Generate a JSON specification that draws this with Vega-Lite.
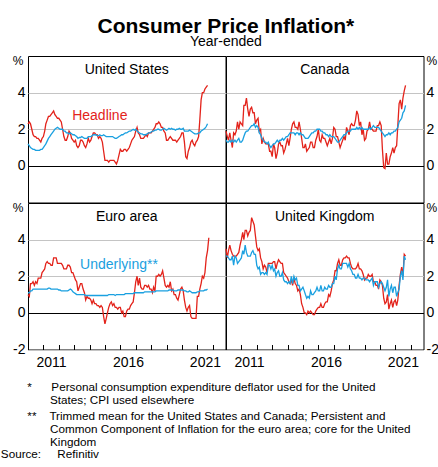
{
"$schema": "https://vega.github.io/schema/vega-lite/v6.json",
"padding": {"left": 0, "top": 16, "right": 0, "bottom": 0},
"title": {"text": "Consumer Price Inflation*", "subtitle": "Year-ended", "fontSize": 21, "fontWeight": "bold", "subtitleFontSize": 14, "anchor": "middle", "frame": "bounds", "dx": 6, "offset": 5, "subtitlePadding": -2},
"datasets": {"cpi": [
{"d":"2010-01","ush":2.3,"usu":1.2,"cah":1.9,"cau":1.4,"eah":1.0,"eau":1.1,"ukh":3.5,"uku":3.1},
{"d":"2010-02","ush":2.4,"usu":1.1,"cah":1.6,"cau":1.3,"eah":0.9,"eau":1.1,"ukh":3.0,"uku":3.1},
{"d":"2010-03","ush":2.3,"usu":1.0,"cah":1.4,"cau":1.3,"eah":1.6,"eau":1.2,"ukh":3.4,"uku":3.0},
{"d":"2010-04","ush":2.0,"usu":0.95,"cah":1.8,"cau":1.4,"eah":1.6,"eau":1.2,"ukh":3.7,"uku":2.9},
{"d":"2010-05","ush":1.7,"usu":0.9,"cah":1.4,"cau":1.3,"eah":1.7,"eau":1.3,"ukh":3.4,"uku":2.9},
{"d":"2010-06","ush":1.6,"usu":0.9,"cah":1.0,"cau":1.4,"eah":1.5,"eau":1.3,"ukh":3.2,"uku":3.1},
{"d":"2010-07","ush":1.6,"usu":0.85,"cah":1.8,"cau":1.3,"eah":1.7,"eau":1.3,"ukh":3.1,"uku":2.6},
{"d":"2010-08","ush":1.5,"usu":0.85,"cah":1.7,"cau":1.4,"eah":1.6,"eau":1.3,"ukh":3.1,"uku":3.1},
{"d":"2010-09","ush":1.5,"usu":0.85,"cah":1.9,"cau":1.3,"eah":1.9,"eau":1.3,"ukh":3.1,"uku":3.0},
{"d":"2010-10","ush":1.4,"usu":0.85,"cah":2.4,"cau":1.4,"eah":1.9,"eau":1.3,"ukh":3.2,"uku":2.7},
{"d":"2010-11","ush":1.3,"usu":0.9,"cah":2.0,"cau":1.5,"eah":1.9,"eau":1.3,"ukh":3.3,"uku":2.8},
{"d":"2010-12","ush":1.5,"usu":0.9,"cah":2.4,"cau":1.3,"eah":2.2,"eau":1.3,"ukh":3.7,"uku":2.9},
{"d":"2011-01","ush":1.6,"usu":1.0,"cah":2.3,"cau":1.3,"eah":2.3,"eau":1.3,"ukh":4.0,"uku":3.0},
{"d":"2011-02","ush":1.9,"usu":1.1,"cah":2.2,"cau":1.4,"eah":2.4,"eau":1.3,"ukh":4.4,"uku":3.4},
{"d":"2011-03","ush":2.3,"usu":1.2,"cah":3.3,"cau":1.6,"eah":2.7,"eau":1.3,"ukh":4.0,"uku":3.2},
{"d":"2011-04","ush":2.5,"usu":1.35,"cah":3.3,"cau":1.8,"eah":2.8,"eau":1.3,"ukh":4.5,"uku":3.7},
{"d":"2011-05","ush":2.7,"usu":1.5,"cah":3.7,"cau":1.9,"eah":2.7,"eau":1.35,"ukh":4.5,"uku":3.3},
{"d":"2011-06","ush":2.7,"usu":1.6,"cah":3.1,"cau":1.9,"eah":2.7,"eau":1.35,"ukh":4.2,"uku":3.1},
{"d":"2011-07","ush":2.8,"usu":1.7,"cah":2.7,"cau":2.0,"eah":2.6,"eau":1.3,"ukh":4.4,"uku":3.1},
{"d":"2011-08","ush":2.9,"usu":1.8,"cah":3.1,"cau":2.1,"eah":2.6,"eau":1.3,"ukh":4.5,"uku":3.1},
{"d":"2011-09","ush":3.0,"usu":1.9,"cah":3.2,"cau":2.2,"eah":3.0,"eau":1.3,"ukh":5.2,"uku":3.3},
{"d":"2011-10","ush":2.8,"usu":2.0,"cah":2.9,"cau":2.2,"eah":3.0,"eau":1.3,"ukh":5.0,"uku":3.4},
{"d":"2011-11","ush":2.7,"usu":2.05,"cah":2.9,"cau":2.3,"eah":3.0,"eau":1.3,"ukh":4.8,"uku":3.2},
{"d":"2011-12","ush":2.6,"usu":2.1,"cah":2.3,"cau":2.1,"eah":2.7,"eau":1.3,"ukh":4.2,"uku":3.2},
{"d":"2012-01","ush":2.6,"usu":2.05,"cah":2.5,"cau":2.2,"eah":2.7,"eau":1.25,"ukh":3.6,"uku":2.6},
{"d":"2012-02","ush":2.5,"usu":2.0,"cah":2.6,"cau":2.1,"eah":2.7,"eau":1.25,"ukh":3.4,"uku":2.4},
{"d":"2012-03","ush":2.4,"usu":2.0,"cah":1.9,"cau":1.8,"eah":2.7,"eau":1.2,"ukh":3.5,"uku":2.5},
{"d":"2012-04","ush":2.0,"usu":2.0,"cah":2.0,"cau":1.7,"eah":2.6,"eau":1.2,"ukh":3.0,"uku":2.1},
{"d":"2012-05","ush":1.6,"usu":1.9,"cah":1.2,"cau":1.5,"eah":2.4,"eau":1.2,"ukh":2.8,"uku":2.2},
{"d":"2012-06","ush":1.4,"usu":1.9,"cah":1.5,"cau":1.4,"eah":2.4,"eau":1.2,"ukh":2.4,"uku":2.2},
{"d":"2012-07","ush":1.4,"usu":1.8,"cah":1.3,"cau":1.3,"eah":2.4,"eau":1.2,"ukh":2.6,"uku":2.1},
{"d":"2012-08","ush":1.6,"usu":1.8,"cah":1.2,"cau":1.3,"eah":2.6,"eau":1.2,"ukh":2.5,"uku":2.2},
{"d":"2012-09","ush":1.9,"usu":1.75,"cah":1.2,"cau":1.2,"eah":2.6,"eau":1.25,"ukh":2.2,"uku":2.1},
{"d":"2012-10","ush":1.8,"usu":1.8,"cah":1.2,"cau":1.3,"eah":2.5,"eau":1.3,"ukh":2.7,"uku":2.6},
{"d":"2012-11","ush":1.5,"usu":1.75,"cah":0.8,"cau":1.1,"eah":2.2,"eau":1.25,"ukh":2.7,"uku":2.6},
{"d":"2012-12","ush":1.4,"usu":1.7,"cah":0.8,"cau":1.0,"eah":2.2,"eau":1.15,"ukh":2.7,"uku":2.4},
{"d":"2013-01","ush":1.3,"usu":1.7,"cah":0.5,"cau":1.1,"eah":2.0,"eau":1.1,"ukh":2.7,"uku":2.6},
{"d":"2013-02","ush":1.4,"usu":1.65,"cah":1.2,"cau":1.2,"eah":1.8,"eau":1.05,"ukh":2.8,"uku":2.3},
{"d":"2013-03","ush":1.1,"usu":1.6,"cah":1.0,"cau":1.2,"eah":1.7,"eau":1.0,"ukh":2.8,"uku":2.4},
{"d":"2013-04","ush":1.0,"usu":1.5,"cah":0.4,"cau":1.3,"eah":1.2,"eau":1.0,"ukh":2.4,"uku":2.0},
{"d":"2013-05","ush":1.1,"usu":1.55,"cah":0.7,"cau":1.4,"eah":1.4,"eau":1.0,"ukh":2.7,"uku":2.2},
{"d":"2013-06","ush":1.4,"usu":1.55,"cah":1.2,"cau":1.3,"eah":1.6,"eau":1.0,"ukh":2.9,"uku":2.3},
{"d":"2013-07","ush":1.4,"usu":1.6,"cah":1.3,"cau":1.4,"eah":1.6,"eau":1.0,"ukh":2.8,"uku":2.0},
{"d":"2013-08","ush":1.3,"usu":1.55,"cah":1.1,"cau":1.4,"eah":1.3,"eau":1.0,"ukh":2.7,"uku":2.0},
{"d":"2013-09","ush":1.1,"usu":1.5,"cah":1.1,"cau":1.5,"eah":1.1,"eau":1.0,"ukh":2.7,"uku":2.2},
{"d":"2013-10","ush":1.0,"usu":1.5,"cah":0.7,"cau":1.4,"eah":0.7,"eau":0.95,"ukh":2.2,"uku":1.8},
{"d":"2013-11","ush":1.2,"usu":1.5,"cah":0.9,"cau":1.5,"eah":0.9,"eau":0.95,"ukh":2.1,"uku":1.7},
{"d":"2013-12","ush":1.5,"usu":1.6,"cah":1.2,"cau":1.6,"eah":0.8,"eau":0.95,"ukh":2.0,"uku":1.7},
{"d":"2014-01","ush":1.3,"usu":1.6,"cah":1.5,"cau":1.6,"eah":0.8,"eau":0.95,"ukh":1.9,"uku":1.6},
{"d":"2014-02","ush":1.4,"usu":1.6,"cah":1.1,"cau":1.7,"eah":0.7,"eau":0.95,"ukh":1.7,"uku":1.7},
{"d":"2014-03","ush":1.6,"usu":1.65,"cah":1.5,"cau":1.8,"eah":0.5,"eau":0.95,"ukh":1.6,"uku":1.6},
{"d":"2014-04","ush":1.8,"usu":1.7,"cah":2.0,"cau":1.8,"eah":0.7,"eau":0.95,"ukh":1.8,"uku":2.0},
{"d":"2014-05","ush":1.8,"usu":1.7,"cah":2.3,"cau":1.8,"eah":0.5,"eau":0.95,"ukh":1.5,"uku":1.6},
{"d":"2014-06","ush":1.7,"usu":1.7,"cah":2.4,"cau":1.8,"eah":0.5,"eau":0.95,"ukh":1.9,"uku":2.0},
{"d":"2014-07","ush":1.7,"usu":1.65,"cah":2.1,"cau":1.7,"eah":0.4,"eau":0.95,"ukh":1.6,"uku":1.8},
{"d":"2014-08","ush":1.5,"usu":1.65,"cah":2.1,"cau":1.8,"eah":0.4,"eau":0.95,"ukh":1.5,"uku":1.9},
{"d":"2014-09","ush":1.6,"usu":1.7,"cah":2.0,"cau":1.8,"eah":0.3,"eau":0.95,"ukh":1.2,"uku":1.5},
{"d":"2014-10","ush":1.5,"usu":1.65,"cah":2.4,"cau":1.7,"eah":0.4,"eau":0.95,"ukh":1.3,"uku":1.5},
{"d":"2014-11","ush":1.3,"usu":1.65,"cah":2.0,"cau":1.8,"eah":0.3,"eau":0.95,"ukh":1.0,"uku":1.2},
{"d":"2014-12","ush":0.8,"usu":1.7,"cah":1.5,"cau":1.7,"eah":-0.2,"eau":0.95,"ukh":0.5,"uku":1.3},
{"d":"2015-01","ush":0.3,"usu":1.65,"cah":1.0,"cau":1.7,"eah":-0.6,"eau":0.95,"ukh":0.3,"uku":1.4},
{"d":"2015-02","ush":0.3,"usu":1.6,"cah":1.0,"cau":1.6,"eah":-0.3,"eau":0.95,"ukh":0.0,"uku":1.2},
{"d":"2015-03","ush":0.3,"usu":1.6,"cah":1.2,"cau":1.5,"eah":0.0,"eau":0.95,"ukh":0.0,"uku":1.0},
{"d":"2015-04","ush":0.2,"usu":1.6,"cah":0.8,"cau":1.5,"eah":0.3,"eau":1.0,"ukh":-0.1,"uku":0.8},
{"d":"2015-05","ush":0.3,"usu":1.6,"cah":0.9,"cau":1.5,"eah":0.5,"eau":1.0,"ukh":0.1,"uku":0.9},
{"d":"2015-06","ush":0.3,"usu":1.6,"cah":1.0,"cau":1.6,"eah":0.6,"eau":1.0,"ukh":0.0,"uku":0.8},
{"d":"2015-07","ush":0.3,"usu":1.6,"cah":1.3,"cau":1.7,"eah":0.4,"eau":1.0,"ukh":0.1,"uku":1.2},
{"d":"2015-08","ush":0.3,"usu":1.55,"cah":1.3,"cau":1.8,"eah":0.5,"eau":1.0,"ukh":0.0,"uku":1.0},
{"d":"2015-09","ush":0.2,"usu":1.5,"cah":1.0,"cau":1.8,"eah":0.3,"eau":0.95,"ukh":-0.1,"uku":1.0},
{"d":"2015-10","ush":0.1,"usu":1.5,"cah":1.0,"cau":1.9,"eah":0.3,"eau":1.0,"ukh":-0.1,"uku":1.1},
{"d":"2015-11","ush":0.3,"usu":1.55,"cah":1.4,"cau":1.9,"eah":0.2,"eau":1.0,"ukh":0.1,"uku":1.2},
{"d":"2015-12","ush":0.6,"usu":1.6,"cah":1.6,"cau":2.0,"eah":0.3,"eau":1.0,"ukh":0.2,"uku":1.4},
{"d":"2016-01","ush":0.9,"usu":1.65,"cah":2.0,"cau":2.0,"eah":0.3,"eau":1.0,"ukh":0.3,"uku":1.2},
{"d":"2016-02","ush":0.8,"usu":1.7,"cah":1.4,"cau":2.0,"eah":0.0,"eau":1.0,"ukh":0.3,"uku":1.2},
{"d":"2016-03","ush":0.8,"usu":1.7,"cah":1.3,"cau":1.9,"eah":0.1,"eau":1.0,"ukh":0.5,"uku":1.5},
{"d":"2016-04","ush":0.9,"usu":1.75,"cah":1.7,"cau":1.9,"eah":-0.2,"eau":1.0,"ukh":0.3,"uku":1.2},
{"d":"2016-05","ush":0.9,"usu":1.8,"cah":1.5,"cau":1.8,"eah":-0.2,"eau":1.05,"ukh":0.3,"uku":1.2},
{"d":"2016-06","ush":0.8,"usu":1.8,"cah":1.5,"cau":1.8,"eah":0.1,"eau":1.05,"ukh":0.5,"uku":1.4},
{"d":"2016-07","ush":0.9,"usu":1.85,"cah":1.3,"cau":1.7,"eah":0.2,"eau":1.05,"ukh":0.6,"uku":1.3},
{"d":"2016-08","ush":1.0,"usu":1.9,"cah":1.1,"cau":1.7,"eah":0.2,"eau":1.05,"ukh":0.6,"uku":1.3},
{"d":"2016-09","ush":1.2,"usu":1.9,"cah":1.3,"cau":1.6,"eah":0.4,"eau":1.05,"ukh":1.0,"uku":1.5},
{"d":"2016-10","ush":1.4,"usu":1.95,"cah":1.5,"cau":1.7,"eah":0.5,"eau":1.05,"ukh":0.9,"uku":1.4},
{"d":"2016-11","ush":1.5,"usu":2.0,"cah":1.2,"cau":1.6,"eah":0.6,"eau":1.05,"ukh":1.2,"uku":1.4},
{"d":"2016-12","ush":1.6,"usu":1.95,"cah":1.5,"cau":1.6,"eah":1.1,"eau":1.1,"ukh":1.6,"uku":1.6},
{"d":"2017-01","ush":1.9,"usu":2.0,"cah":2.1,"cau":1.6,"eah":1.7,"eau":1.1,"ukh":1.8,"uku":1.6},
{"d":"2017-02","ush":2.1,"usu":1.9,"cah":2.0,"cau":1.5,"eah":2.0,"eau":1.1,"ukh":2.3,"uku":2.0},
{"d":"2017-03","ush":1.8,"usu":1.85,"cah":1.6,"cau":1.4,"eah":1.5,"eau":1.1,"ukh":2.3,"uku":1.8},
{"d":"2017-04","ush":1.7,"usu":1.8,"cah":1.6,"cau":1.3,"eah":1.9,"eau":1.1,"ukh":2.7,"uku":2.4},
{"d":"2017-05","ush":1.5,"usu":1.75,"cah":1.3,"cau":1.3,"eah":1.4,"eau":1.1,"ukh":2.9,"uku":2.6},
{"d":"2017-06","ush":1.5,"usu":1.75,"cah":1.0,"cau":1.4,"eah":1.3,"eau":1.1,"ukh":2.6,"uku":2.4},
{"d":"2017-07","ush":1.5,"usu":1.7,"cah":1.2,"cau":1.5,"eah":1.3,"eau":1.1,"ukh":2.6,"uku":2.4},
{"d":"2017-08","ush":1.6,"usu":1.7,"cah":1.4,"cau":1.6,"eah":1.5,"eau":1.15,"ukh":2.9,"uku":2.7},
{"d":"2017-09","ush":1.7,"usu":1.7,"cah":1.6,"cau":1.7,"eah":1.5,"eau":1.15,"ukh":3.0,"uku":2.7},
{"d":"2017-10","ush":1.6,"usu":1.75,"cah":1.4,"cau":1.7,"eah":1.4,"eau":1.15,"ukh":3.0,"uku":2.7},
{"d":"2017-11","ush":1.8,"usu":1.8,"cah":2.1,"cau":1.8,"eah":1.5,"eau":1.15,"ukh":3.1,"uku":2.7},
{"d":"2017-12","ush":1.8,"usu":1.8,"cah":1.9,"cau":1.9,"eah":1.3,"eau":1.15,"ukh":3.0,"uku":2.5},
{"d":"2018-01","ush":1.8,"usu":1.85,"cah":1.7,"cau":1.9,"eah":1.3,"eau":1.15,"ukh":3.0,"uku":2.7},
{"d":"2018-02","ush":1.9,"usu":1.9,"cah":2.2,"cau":1.9,"eah":1.1,"eau":1.15,"ukh":2.7,"uku":2.4},
{"d":"2018-03","ush":2.0,"usu":1.9,"cah":2.3,"cau":2.0,"eah":1.4,"eau":1.15,"ukh":2.5,"uku":2.3},
{"d":"2018-04","ush":2.1,"usu":1.95,"cah":2.2,"cau":2.0,"eah":1.2,"eau":1.15,"ukh":2.4,"uku":2.1},
{"d":"2018-05","ush":2.3,"usu":1.95,"cah":2.2,"cau":2.0,"eah":2.0,"eau":1.2,"ukh":2.4,"uku":2.1},
{"d":"2018-06","ush":2.3,"usu":2.0,"cah":2.5,"cau":2.0,"eah":2.0,"eau":1.2,"ukh":2.4,"uku":1.9},
{"d":"2018-07","ush":2.4,"usu":2.0,"cah":3.0,"cau":2.1,"eah":2.1,"eau":1.2,"ukh":2.5,"uku":1.9},
{"d":"2018-08","ush":2.3,"usu":1.95,"cah":2.8,"cau":2.0,"eah":2.0,"eau":1.2,"ukh":2.7,"uku":2.1},
{"d":"2018-09","ush":2.1,"usu":1.95,"cah":2.2,"cau":2.1,"eah":2.1,"eau":1.2,"ukh":2.4,"uku":1.9},
{"d":"2018-10","ush":2.1,"usu":2.0,"cah":2.4,"cau":2.0,"eah":2.3,"eau":1.2,"ukh":2.4,"uku":1.9},
{"d":"2018-11","ush":1.9,"usu":2.05,"cah":1.7,"cau":2.1,"eah":1.9,"eau":1.2,"ukh":2.3,"uku":1.8},
{"d":"2018-12","ush":1.8,"usu":2.0,"cah":2.0,"cau":2.0,"eah":1.5,"eau":1.2,"ukh":2.1,"uku":1.9},
{"d":"2019-01","ush":1.4,"usu":1.95,"cah":1.4,"cau":2.0,"eah":1.4,"eau":1.2,"ukh":1.8,"uku":1.9},
{"d":"2019-02","ush":1.4,"usu":2.0,"cah":1.5,"cau":2.0,"eah":1.5,"eau":1.2,"ukh":1.9,"uku":1.8},
{"d":"2019-03","ush":1.5,"usu":2.05,"cah":1.9,"cau":2.0,"eah":1.4,"eau":1.25,"ukh":1.9,"uku":1.8},
{"d":"2019-04","ush":1.6,"usu":2.0,"cah":2.0,"cau":2.0,"eah":1.7,"eau":1.25,"ukh":2.1,"uku":1.8},
{"d":"2019-05","ush":1.5,"usu":2.05,"cah":2.4,"cau":2.1,"eah":1.2,"eau":1.25,"ukh":2.0,"uku":1.7},
{"d":"2019-06","ush":1.4,"usu":2.0,"cah":2.0,"cau":2.0,"eah":1.3,"eau":1.25,"ukh":2.0,"uku":1.8},
{"d":"2019-07","ush":1.4,"usu":2.0,"cah":2.0,"cau":2.1,"eah":1.0,"eau":1.2,"ukh":2.1,"uku":1.9},
{"d":"2019-08","ush":1.4,"usu":1.95,"cah":1.9,"cau":2.2,"eah":1.0,"eau":1.2,"ukh":1.7,"uku":1.5},
{"d":"2019-09","ush":1.3,"usu":2.0,"cah":1.9,"cau":2.1,"eah":0.8,"eau":1.2,"ukh":1.7,"uku":1.7},
{"d":"2019-10","ush":1.4,"usu":2.0,"cah":1.9,"cau":2.1,"eah":0.7,"eau":1.25,"ukh":1.5,"uku":1.7},
{"d":"2019-11","ush":1.5,"usu":2.05,"cah":2.2,"cau":2.1,"eah":1.0,"eau":1.25,"ukh":1.5,"uku":1.7},
{"d":"2019-12","ush":1.6,"usu":2.0,"cah":2.2,"cau":2.1,"eah":1.3,"eau":1.25,"ukh":1.3,"uku":1.4},
{"d":"2020-01","ush":1.8,"usu":2.0,"cah":2.4,"cau":2.0,"eah":1.4,"eau":1.25,"ukh":1.8,"uku":1.6},
{"d":"2020-02","ush":1.8,"usu":2.05,"cah":2.2,"cau":1.9,"eah":1.2,"eau":1.25,"ukh":1.7,"uku":1.7},
{"d":"2020-03","ush":1.3,"usu":1.9,"cah":0.9,"cau":1.8,"eah":0.7,"eau":1.2,"ukh":1.5,"uku":1.6},
{"d":"2020-04","ush":0.5,"usu":1.9,"cah":-0.1,"cau":1.7,"eah":0.3,"eau":1.2,"ukh":0.8,"uku":1.4},
{"d":"2020-05","ush":0.4,"usu":1.9,"cah":-0.15,"cau":1.6,"eah":0.1,"eau":1.15,"ukh":0.5,"uku":1.2},
{"d":"2020-06","ush":0.8,"usu":1.9,"cah":0.7,"cau":1.7,"eah":0.3,"eau":1.15,"ukh":0.6,"uku":1.4},
{"d":"2020-07","ush":1.0,"usu":1.95,"cah":0.1,"cau":1.7,"eah":0.4,"eau":1.2,"ukh":1.0,"uku":1.8},
{"d":"2020-08","ush":1.3,"usu":1.9,"cah":0.1,"cau":1.8,"eah":-0.2,"eau":1.15,"ukh":0.2,"uku":0.9},
{"d":"2020-09","ush":1.4,"usu":1.85,"cah":0.5,"cau":1.7,"eah":-0.3,"eau":1.1,"ukh":0.5,"uku":1.3},
{"d":"2020-10","ush":1.2,"usu":1.8,"cah":0.7,"cau":1.8,"eah":-0.3,"eau":1.1,"ukh":0.7,"uku":1.5},
{"d":"2020-11","ush":1.1,"usu":1.75,"cah":1.0,"cau":1.8,"eah":-0.3,"eau":1.1,"ukh":0.3,"uku":1.1},
{"d":"2020-12","ush":1.3,"usu":1.75,"cah":0.7,"cau":1.9,"eah":-0.3,"eau":1.1,"ukh":0.6,"uku":1.4},
{"d":"2021-01","ush":1.4,"usu":1.75,"cah":1.0,"cau":1.9,"eah":0.9,"eau":1.15,"ukh":0.7,"uku":1.4},
{"d":"2021-02","ush":1.6,"usu":1.8,"cah":1.1,"cau":2.0,"eah":0.9,"eau":1.15,"ukh":0.4,"uku":0.9},
{"d":"2021-03","ush":2.5,"usu":1.8,"cah":2.2,"cau":2.1,"eah":1.3,"eau":1.2,"ukh":0.7,"uku":1.1},
{"d":"2021-04","ush":3.6,"usu":1.9,"cah":3.4,"cau":2.4,"eah":1.6,"eau":1.2,"ukh":1.5,"uku":1.3},
{"d":"2021-05","ush":4.0,"usu":1.95,"cah":3.6,"cau":2.5,"eah":2.0,"eau":1.2,"ukh":2.1,"uku":2.0},
{"d":"2021-06","ush":4.0,"usu":2.0,"cah":3.1,"cau":2.6,"eah":1.9,"eau":1.2,"ukh":2.5,"uku":2.3},
{"d":"2021-07","ush":4.2,"usu":2.05,"cah":3.7,"cau":2.9,"eah":2.2,"eau":1.25,"ukh":2.0,"uku":1.8},
{"d":"2021-08","ush":4.3,"usu":2.15,"cah":4.1,"cau":3.0,"eah":3.0,"eau":1.25,"ukh":3.2,"uku":3.1},
{"d":"2021-09","ush":4.4,"usu":2.3,"cah":4.4,"cau":3.3,"eah":3.4,"eau":1.3,"ukh":3.1,"uku":2.9},
{"d":"2021-10","eah":4.1}
]},
"data": {"name": "cpi"},
"vconcat": [
{"title": {"text": "Source:\u00a0\u00a0\u00a0\u00a0\u00a0Refinitiv", "orient": "bottom", "anchor": "start", "frame": "bounds", "fontSize": 11.7, "fontWeight": "normal", "offset": 0, "dx": -11},
 "vconcat": [
 {"title": {"text": ["**\u00a0\u00a0\u00a0\u00a0Trimmed mean for the United States and Canada; Persistent and", "\u200b\u00a0\u00a0\u00a0\u00a0\u00a0\u00a0\u00a0Common Component of Inflation for the euro area; core for the United", "\u200b\u00a0\u00a0\u00a0\u00a0\u00a0\u00a0\u00a0Kingdom"], "orient": "bottom", "anchor": "start", "frame": "bounds", "fontSize": 11.7, "fontWeight": "normal", "lineHeight": 12.7, "offset": 5, "dx": 15.5},
  "vconcat": [
  {"title": {"text": ["*\u00a0\u00a0\u00a0\u00a0\u00a0\u00a0Personal consumption expenditure deflator used for the United", "\u200b\u00a0\u00a0\u00a0\u00a0\u00a0\u00a0\u00a0States; CPI used elsewhere"], "orient": "bottom", "anchor": "start", "frame": "bounds", "fontSize": 11.7, "fontWeight": "normal", "lineHeight": 12.7, "offset": 12, "dx": 15.5},
   "columns": 2,
   "spacing": 0,
   "bounds": "flush",
   "concat": [
    {"width": 197.5, "height": 146.5, "layer": [
     {"transform": [{"fold": ["ush", "usu"], "as": ["k", "v"]}],
      "mark": {"type": "line", "strokeWidth": 1.3},
      "encoding": {
       "x": {"field": "d", "type": "temporal", "scale": {"type": "utc", "domain": [{"year": 2010, "month": 1, "date": 1, "utc": true}, {"year": 2022, "month": 11, "date": 1, "utc": true}]}, "axis": null},
       "y": {"field": "v", "type": "quantitative", "scale": {"domain": [-2, 6], "nice": false, "zero": false}, "axis": {"orient": "left", "values": [0, 2, 4], "title": "%", "titleAngle": 0, "titleAlign": "right", "titleBaseline": "alphabetic", "titleX": -5, "titleY": 8.5, "titleFontSize": 12, "titleFontWeight": "normal", "ticks": false, "domain": false, "labelPadding": 3, "labelFontSize": 14, "grid": true, "gridColor": {"condition": {"test": "datum.value === 0", "value": "#000000"}, "value": "#c4c4c4"}}},
       "color": {"field": "k", "type": "nominal", "scale": {"domain": ["ush", "usu", "cah", "cau", "eah", "eau", "ukh", "uku"], "range": ["#e3231b", "#1aa0e0", "#e3231b", "#1aa0e0", "#e3231b", "#1aa0e0", "#e3231b", "#1aa0e0"]}, "legend": null}
      }},
     {"data": {"values": [{"t": "United States"}]},
      "mark": {"type": "text", "fontSize": 14, "baseline": "alphabetic", "color": "#000000"},
      "encoding": {"x": {"datum": {"year": 2016, "month": 6, "date": 1, "utc": true}, "type": "temporal"}, "y": {"datum": 5.03, "type": "quantitative"}, "text": {"field": "t", "type": "nominal"}}},
     {"data": {"values": [{"t": "Headline"}]},
      "mark": {"type": "text", "fontSize": 14, "baseline": "alphabetic", "color": "#e3231b"},
      "encoding": {"x": {"datum": {"year": 2014, "month": 9, "date": 1, "utc": true}, "type": "temporal"}, "y": {"datum": 2.49, "type": "quantitative"}, "text": {"field": "t", "type": "nominal"}}}
    ]},
    {"width": 197.5, "height": 146.5, "layer": [
     {"transform": [{"fold": ["cah", "cau"], "as": ["k", "v"]}],
      "mark": {"type": "line", "strokeWidth": 1.3},
      "encoding": {
       "x": {"field": "d", "type": "temporal", "scale": {"type": "utc", "domain": [{"year": 2010, "month": 1, "date": 1, "utc": true}, {"year": 2022, "month": 11, "date": 1, "utc": true}]}, "axis": null},
       "y": {"field": "v", "type": "quantitative", "scale": {"domain": [-2, 6], "nice": false, "zero": false}, "axis": {"orient": "right", "values": [0, 2, 4], "title": "%", "titleAngle": 0, "titleAlign": "left", "titleBaseline": "alphabetic", "titleX": 2.5, "titleY": 8.5, "titleFontSize": 12, "titleFontWeight": "normal", "ticks": false, "domain": false, "labelPadding": 2.5, "labelFontSize": 14, "grid": true, "gridColor": {"condition": {"test": "datum.value === 0", "value": "#000000"}, "value": "#c4c4c4"}}},
       "color": {"field": "k", "type": "nominal", "scale": {"domain": ["ush", "usu", "cah", "cau", "eah", "eau", "ukh", "uku"], "range": ["#e3231b", "#1aa0e0", "#e3231b", "#1aa0e0", "#e3231b", "#1aa0e0", "#e3231b", "#1aa0e0"]}, "legend": null}
      }},
     {"data": {"values": [{"t": "Canada"}]},
      "mark": {"type": "text", "fontSize": 14, "baseline": "alphabetic", "color": "#000000"},
      "encoding": {"x": {"datum": {"year": 2016, "month": 6, "date": 1, "utc": true}, "type": "temporal"}, "y": {"datum": 5.03, "type": "quantitative"}, "text": {"field": "t", "type": "nominal"}}}
    ]},
    {"width": 197.5, "height": 146.5, "resolve": {"axis": {"x": "independent"}}, "layer": [
     {"transform": [{"fold": ["eah", "eau"], "as": ["k", "v"]}],
      "mark": {"type": "line", "strokeWidth": 1.3},
      "encoding": {
       "x": {"field": "d", "type": "temporal", "scale": {"type": "utc", "domain": [{"year": 2010, "month": 1, "date": 1, "utc": true}, {"year": 2022, "month": 11, "date": 1, "utc": true}]}, "axis": {"orient": "bottom", "values": [{"year": 2011, "month": 1, "date": 1, "utc": true}, {"year": 2012, "month": 1, "date": 1, "utc": true}, {"year": 2013, "month": 1, "date": 1, "utc": true}, {"year": 2014, "month": 1, "date": 1, "utc": true}, {"year": 2015, "month": 1, "date": 1, "utc": true}, {"year": 2016, "month": 1, "date": 1, "utc": true}, {"year": 2017, "month": 1, "date": 1, "utc": true}, {"year": 2018, "month": 1, "date": 1, "utc": true}, {"year": 2019, "month": 1, "date": 1, "utc": true}, {"year": 2020, "month": 1, "date": 1, "utc": true}, {"year": 2021, "month": 1, "date": 1, "utc": true}, {"year": 2022, "month": 1, "date": 1, "utc": true}], "labels": false, "tickSize": -5, "tickColor": "#000000", "domain": false, "grid": false, "title": null}},
       "y": {"field": "v", "type": "quantitative", "scale": {"domain": [-2, 6], "nice": false, "zero": false}, "axis": {"orient": "left", "values": [-2, 0, 2, 4], "title": "%", "titleAngle": 0, "titleAlign": "right", "titleBaseline": "alphabetic", "titleX": -5, "titleY": 8.5, "titleFontSize": 12, "titleFontWeight": "normal", "ticks": false, "domain": false, "labelPadding": 3, "labelFontSize": 14, "grid": true, "gridColor": {"condition": {"test": "datum.value === 0", "value": "#000000"}, "value": "#c4c4c4"}}},
       "color": {"field": "k", "type": "nominal", "scale": {"domain": ["ush", "usu", "cah", "cau", "eah", "eau", "ukh", "uku"], "range": ["#e3231b", "#1aa0e0", "#e3231b", "#1aa0e0", "#e3231b", "#1aa0e0", "#e3231b", "#1aa0e0"]}, "legend": null}
      }},
     {"data": {"values": [{"t": "Euro area"}]},
      "mark": {"type": "text", "fontSize": 14, "baseline": "alphabetic", "color": "#000000"},
      "encoding": {"x": {"datum": {"year": 2016, "month": 6, "date": 1, "utc": true}, "type": "temporal", "axis": {"orient": "bottom", "values": [{"year": 2011, "month": 7, "date": 1, "utc": true}, {"year": 2016, "month": 7, "date": 1, "utc": true}, {"year": 2021, "month": 7, "date": 1, "utc": true}], "format": "%Y", "ticks": false, "domain": false, "grid": false, "labelPadding": 6, "labelFlush": false, "labelOverlap": false, "labelFontSize": 14, "title": null}}, "y": {"datum": 5.0, "type": "quantitative"}, "text": {"field": "t", "type": "nominal"}}},
     {"data": {"values": [{"t": "Underlying**"}]},
      "mark": {"type": "text", "fontSize": 14, "baseline": "alphabetic", "color": "#1aa0e0"},
      "encoding": {"x": {"datum": {"year": 2015, "month": 12, "date": 1, "utc": true}, "type": "temporal", "axis": null}, "y": {"datum": 2.42, "type": "quantitative"}, "text": {"field": "t", "type": "nominal"}}}
    ]},
    {"width": 197.5, "height": 146.5, "resolve": {"axis": {"x": "independent"}}, "layer": [
     {"transform": [{"fold": ["ukh", "uku"], "as": ["k", "v"]}],
      "mark": {"type": "line", "strokeWidth": 1.3},
      "encoding": {
       "x": {"field": "d", "type": "temporal", "scale": {"type": "utc", "domain": [{"year": 2010, "month": 1, "date": 1, "utc": true}, {"year": 2022, "month": 11, "date": 1, "utc": true}]}, "axis": {"orient": "bottom", "values": [{"year": 2011, "month": 1, "date": 1, "utc": true}, {"year": 2012, "month": 1, "date": 1, "utc": true}, {"year": 2013, "month": 1, "date": 1, "utc": true}, {"year": 2014, "month": 1, "date": 1, "utc": true}, {"year": 2015, "month": 1, "date": 1, "utc": true}, {"year": 2016, "month": 1, "date": 1, "utc": true}, {"year": 2017, "month": 1, "date": 1, "utc": true}, {"year": 2018, "month": 1, "date": 1, "utc": true}, {"year": 2019, "month": 1, "date": 1, "utc": true}, {"year": 2020, "month": 1, "date": 1, "utc": true}, {"year": 2021, "month": 1, "date": 1, "utc": true}, {"year": 2022, "month": 1, "date": 1, "utc": true}], "labels": false, "tickSize": -5, "tickColor": "#000000", "domain": false, "grid": false, "title": null}},
       "y": {"field": "v", "type": "quantitative", "scale": {"domain": [-2, 6], "nice": false, "zero": false}, "axis": {"orient": "right", "values": [-2, 0, 2, 4], "title": "%", "titleAngle": 0, "titleAlign": "left", "titleBaseline": "alphabetic", "titleX": 2.5, "titleY": 8.5, "titleFontSize": 12, "titleFontWeight": "normal", "ticks": false, "domain": false, "labelPadding": 2.5, "labelFontSize": 14, "grid": true, "gridColor": {"condition": {"test": "datum.value === 0", "value": "#000000"}, "value": "#c4c4c4"}}},
       "color": {"field": "k", "type": "nominal", "scale": {"domain": ["ush", "usu", "cah", "cau", "eah", "eau", "ukh", "uku"], "range": ["#e3231b", "#1aa0e0", "#e3231b", "#1aa0e0", "#e3231b", "#1aa0e0", "#e3231b", "#1aa0e0"]}, "legend": null}
      }},
     {"data": {"values": [{"t": "United Kingdom"}]},
      "mark": {"type": "text", "fontSize": 14, "baseline": "alphabetic", "color": "#000000"},
      "encoding": {"x": {"datum": {"year": 2016, "month": 6, "date": 1, "utc": true}, "type": "temporal", "axis": {"orient": "bottom", "values": [{"year": 2011, "month": 7, "date": 1, "utc": true}, {"year": 2016, "month": 7, "date": 1, "utc": true}, {"year": 2021, "month": 7, "date": 1, "utc": true}], "format": "%Y", "ticks": false, "domain": false, "grid": false, "labelPadding": 6, "labelFlush": false, "labelOverlap": false, "labelFontSize": 14, "title": null}}, "y": {"datum": 5.0, "type": "quantitative"}, "text": {"field": "t", "type": "nominal"}}}
    ]}
   ]}
  ]}
 ]}
],
"config": {
 "font": "Liberation Sans",
 "locale": {"number": {"decimal": ".", "thousands": ",", "grouping": [3], "currency": ["$", ""], "minus": "-"}},
 "view": {"stroke": "#000000", "strokeWidth": 1},
 "axis": {"labelColor": "#000000", "titleColor": "#000000", "labelFont": "Liberation Sans", "titleFont": "Liberation Sans"},
 "title": {"color": "#000000", "subtitleColor": "#000000", "font": "Liberation Sans", "subtitleFont": "Liberation Sans"}
}
}
